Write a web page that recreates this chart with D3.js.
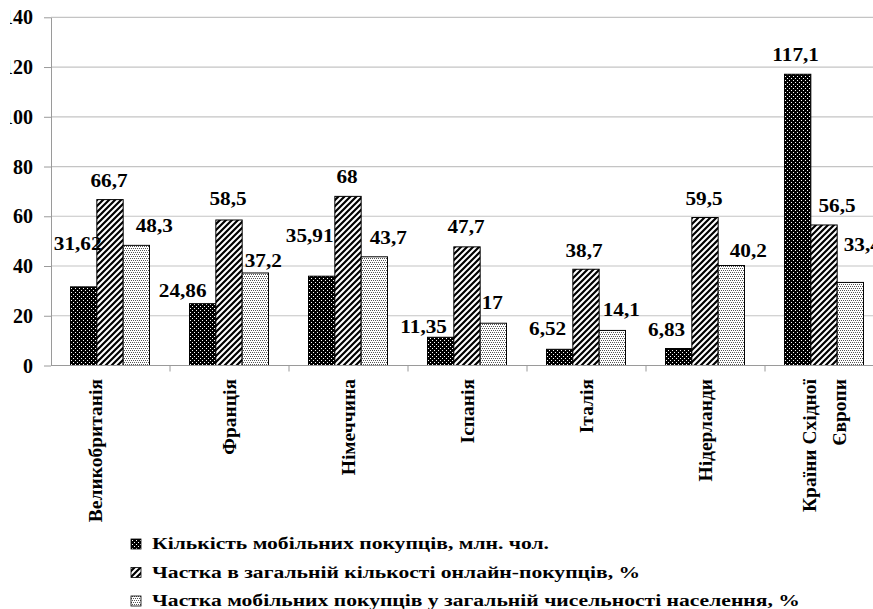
<!DOCTYPE html>
<html><head><meta charset="utf-8">
<script src="https://cdn.jsdelivr.net/npm/d3@7"></script>
<style>
html,body{margin:0;padding:0;background:#fff;}
svg{display:block;}
</style></head><body>
<svg id="chart" width="873" height="609"></svg>
<script>
// Categories (a trailing "\n" keeps an empty second line in the axis label)
const categories = ["Великобританія\n", "Франція", "Німеччина", "Іспанія", "Італія", "Нідерланди", "Країни Східної\nЄвропи"];

const seriesNames = [
  "Кількість мобільних покупців, млн. чол.",
  "Частка в загальній кількості онлайн-покупців, %",
  "Частка мобільних покупців у загальній чисельності населення, %"
];
const mobileBuyers      = [31.62, 24.86, 35.91, 11.35, 6.52, 6.83, 117.1];
const shareOfOnline     = [66.7, 58.5, 68, 47.7, 38.7, 59.5, 56.5];
const shareOfPopulation = [48.3, 37.2, 43.7, 17, 14.1, 40.2, 33.4];
const yTicks = [0, 20, 40, 60, 80, 100, 120, 140];

// Hand placement of value labels: [dx, dy] per series, per category
const labelNudge = [
  [[-6,-24],[-20,6],[-12,-21],[-17,9],[-12,-1],[-12,0],[-2,0]],
  [[-1,0],[-1,-2],[-1,0],[-1,-1],[-2,1],[-1,0],[13,0]],
  [[18,0],[8,7],[14,0],[-1,-1],[9,-1],[17,4],[12,-18]]
];

const seriesValues = [mobileBuyers, shareOfOnline, shareOfPopulation];
const patternIds = ["pDark", "pStripe", "pLight"];
const SERIF = "'Liberation Serif'";

const W = 873;
const left = 51, band = 119;
const svg = d3.select("#chart");
const serif = sel => sel.style("font-family", SERIF).style("font-weight", "bold").style("fill", "#000");

// ---- fill patterns
const defs = svg.append("defs");
const pd = defs.append("pattern").attr("id","pDark").attr("patternUnits","userSpaceOnUse").attr("width",4).attr("height",4);
pd.append("rect").attr("width",4).attr("height",4).attr("fill","#000");
pd.append("rect").attr("x",0).attr("y",0).attr("width",1).attr("height",1).attr("fill","#fff");
pd.append("rect").attr("x",2).attr("y",2).attr("width",1).attr("height",1).attr("fill","#fff");

const ps = defs.append("pattern").attr("id","pStripe").attr("patternUnits","userSpaceOnUse").attr("width",6).attr("height",6);
ps.append("rect").attr("width",6).attr("height",6).attr("fill","#fff");
ps.append("path").attr("d","M-1,7 L7,-1 M-4,4 L4,-4 M2,10 L10,2").attr("stroke","#000").attr("stroke-width",2.2);

const pl = defs.append("pattern").attr("id","pLight").attr("patternUnits","userSpaceOnUse").attr("width",4).attr("height",4);
pl.append("rect").attr("width",4).attr("height",4).attr("fill","#fff");
[[0,0],[2,0],[1,2],[3,2]].forEach(([a,b]) =>
  pl.append("rect").attr("x",a).attr("y",b).attr("width",1).attr("height",1).attr("fill","#555"));

defs.append("clipPath").attr("id","yLabelClip").append("rect").attr("x",10).attr("y",0).attr("width",60).attr("height",400);

// ---- scales
const x = d3.scaleBand().domain(categories).range([left, left + band * categories.length]).padding(0);
const xs = d3.scaleBand().domain([0,1,2]).range([19.5, 98.5]).padding(0);
const y = d3.scaleLinear().domain([0,140]).range([365.5, 17.3]);

// ---- gridlines
svg.append("g").selectAll("line").data(yTicks.filter(t => t > 0)).join("line")
  .attr("x1", left).attr("x2", W).attr("y1", d => y(d)).attr("y2", d => y(d))
  .attr("stroke","#c4c4c4").attr("stroke-width",1.2);

// ---- y axis (tick labels drawn in a clipped layer at the left edge)
const yAxis = svg.append("g").attr("transform",`translate(${left},0)`)
  .call(d3.axisLeft(y).tickValues(yTicks).tickSize(7).tickSizeOuter(0).tickFormat(""));
yAxis.select(".domain").attr("stroke","#9a9a9a");
yAxis.selectAll(".tick line").attr("stroke","#9a9a9a");
svg.append("g").attr("clip-path","url(#yLabelClip)")
  .selectAll("text").data(yTicks).join("text")
  .attr("x", left - 7 - 11).attr("y", d => y(d)).attr("dy","0.35em")
  .attr("text-anchor","end").style("font-size","20px").text(d => d3.format("d")(d))
  .call(serif);

// ---- bars
const groups = svg.append("g").selectAll("g").data(categories).join("g")
  .attr("transform", d => `translate(${x(d)},0)`);
groups.selectAll("rect").data((c, i) => seriesValues.map((vals, s) => ({s, v: vals[i]}))).join("rect")
  .attr("x", d => xs(d.s)).attr("width", xs.bandwidth())
  .attr("y", d => y(d.v)).attr("height", d => y(0) - y(d.v))
  .attr("fill", d => `url(#${patternIds[d.s]})`)
  .attr("stroke","#000").attr("stroke-width",1);

// ---- x axis line and band ticks
svg.append("line").attr("x1",left).attr("x2",W).attr("y1",y(0)).attr("y2",y(0)).attr("stroke","#9a9a9a");
svg.append("g").selectAll("line").data(d3.range(1, categories.length + 1)).join("line")
  .attr("x1", i => left + i * band).attr("x2", i => left + i * band)
  .attr("y1", y(0)).attr("y2", y(0) + 6).attr("stroke","#9a9a9a");

// ---- category labels (rotated)
const xl = svg.append("g").selectAll("text").data(categories).join("text")
  .attr("transform", d => `translate(${x(d) + band/2},379) rotate(-90)`)
  .attr("text-anchor","end").style("font-size","19.5px").call(serif);
xl.each(function(d){
  const lines = d.split("\n");
  const n = lines.length;
  d3.select(this).selectAll("tspan").data(lines).join("tspan")
    .attr("x",0)
    .attr("y", (l, k) => (k - (n - 1) / 2) * 30)
    .attr("dy","0.35em")
    .text(l => l);
});

// ---- value labels
const fmt = v => String(v).replace(".", ",");
const labels = svg.append("g");
seriesValues.forEach((vals, s) => {
  vals.forEach((v, i) => {
    const cx = x(categories[i]) + xs(s) + xs.bandwidth() / 2 + labelNudge[s][i][0];
    const by = y(v) - 13 + labelNudge[s][i][1];
    labels.append("text")
      .attr("transform", `translate(${cx},${by}) scale(1.18,1)`)
      .attr("text-anchor","middle").style("font-size","18px").text(fmt(v)).call(serif);
  });
});

// ---- legend
const legend = svg.append("g");
seriesNames.forEach((name, s) => {
  const base = 549 + s * 28.5;
  legend.append("rect").attr("x",131).attr("y",base - 10).attr("width",10).attr("height",10)
    .attr("fill",`url(#${patternIds[s]})`).attr("stroke","#000").attr("stroke-width",0.8);
  legend.append("text").attr("transform",`translate(152,${base}) scale(1.35,1)`)
    .style("font-size","16px").text(name).call(serif);
});
</script>
</body></html>
